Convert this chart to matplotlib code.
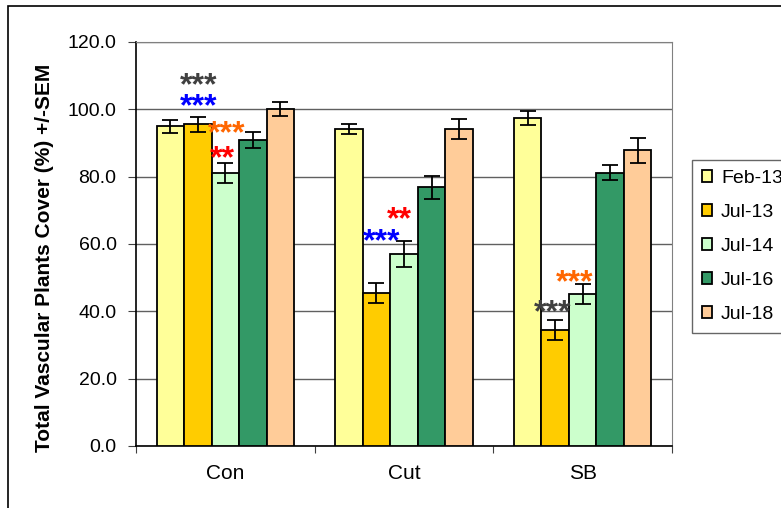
import numpy as np
import matplotlib.pyplot as plt
from matplotlib.patches import Rectangle

plt.rcParams['font.family'] = ['Liberation Sans', 'DejaVu Sans']

# data
sites = ["Con", "Cut", "SB"]
dates = ["Feb-13", "Jul-13", "Jul-14", "Jul-16", "Jul-18"]
colors = ["#FFFF99", "#FFCC00", "#CCFFCC", "#339966", "#FFCC99"]

cover = {
    "Feb-13": [95.0, 94.1, 97.3],
    "Jul-13": [95.5, 45.5, 34.5],
    "Jul-14": [81.2, 57.0, 45.1],
    "Jul-16": [90.8, 76.9, 81.2],
    "Jul-18": [100.2, 94.1, 87.8],
}
sem = {
    "Feb-13": [1.9, 1.5, 2.1],
    "Jul-13": [2.2, 2.9, 3.0],
    "Jul-14": [3.0, 3.8, 2.9],
    "Jul-16": [2.4, 3.4, 2.2],
    "Jul-18": [2.1, 3.0, 3.8],
}

# significance marks: (site index, x offset in bar widths from group centre, y value, text, colour)
stars = [
    (0, -0.97, 109.2, "***", "#404040"),
    (0, -0.97, 103.0, "***", "#0000FF"),
    (0, 0.06, 95.1, "***", "#FF6600"),
    (0, -0.1, 87.6, "**", "#FF0000"),
    (1, -0.8, 62.9, "***", "#0000FF"),
    (1, -0.15, 69.4, "**", "#FF0000"),
    (2, -1.08, 41.7, "***", "#404040"),
    (2, -0.29, 50.8, "***", "#FF6600"),
]

fig = plt.figure(figsize=(7.81, 5.08), dpi=100)
ax = fig.add_axes([136/781, 1-446/508, (672-136)/781, (446-42)/508])

x = np.arange(len(sites))
w = 0.154
for i, d in enumerate(dates):
    pos = x + (i - 2) * w
    ax.bar(pos, cover[d], w, color=colors[i], edgecolor="black", linewidth=1.3,
           label=d, zorder=3)
    ax.errorbar(pos, cover[d], yerr=sem[d], fmt="none", ecolor="black",
                elinewidth=1.3, capsize=5.5, capthick=1.3, zorder=4)

star_fs = 23
for s, off, yv, txt, c in stars:
    # baseline shifted so the star glyphs are centred on yv
    ax.annotate(txt, (x[s] + off * w, yv), xytext=(0, -0.5 * star_fs),
                textcoords="offset points", color=c, ha="center", va="baseline",
                fontsize=star_fs, fontweight="bold", zorder=5)

ax.set_xlim(-0.5, 2.5)
ax.set_ylim(0, 120)
ax.set_yticks(np.arange(0, 121, 20))
ax.set_yticklabels([f"{v:.1f}" for v in np.arange(0, 121, 20)], fontsize=14)
ax.set_xticks([-0.5, 0.5, 1.5, 2.5])
ax.set_xticklabels([])
ax.set_xticks(x, minor=True)
ax.set_xticklabels(sites, minor=True, fontsize=15)
ax.tick_params(axis="x", which="minor", length=0, pad=13)
ax.tick_params(axis="x", which="major", length=5, direction="out", color="#404040")
ax.tick_params(axis="y", length=6, direction="out", color="#404040", pad=8)
ax.grid(axis="y", color="#606060", linewidth=1, zorder=0)
ax.set_axisbelow(True)

for side in ["top", "right"]:
    ax.spines[side].set_color("#808080")
for side in ["left", "bottom"]:
    ax.spines[side].set_color("black")
    ax.spines[side].set_linewidth(1.2)

ax.set_ylabel("Total Vascular Plants Cover (%) +/-SEM", fontsize=15,
              fontweight="bold", va="center")
ax.yaxis.set_label_coords(-0.1716, 0.4666)

leg = fig.legend(loc="upper left", bbox_to_anchor=(692/781, 1-160/508),
                 borderaxespad=0, fontsize=14, frameon=True, fancybox=False,
                 edgecolor="#404040", handlelength=0.55, handleheight=0.55,
                 handletextpad=0.45, labelspacing=0.88, borderpad=0.5)
leg.get_frame().set_linewidth(1)

# outer chart frame
fig.patches.append(Rectangle((8/781, -0.1), 1.2, (1-6/508) + 0.1,
                             transform=fig.transFigure, fill=False,
                             edgecolor="black", linewidth=1.2))

fig.savefig("out.png", dpi=100)
